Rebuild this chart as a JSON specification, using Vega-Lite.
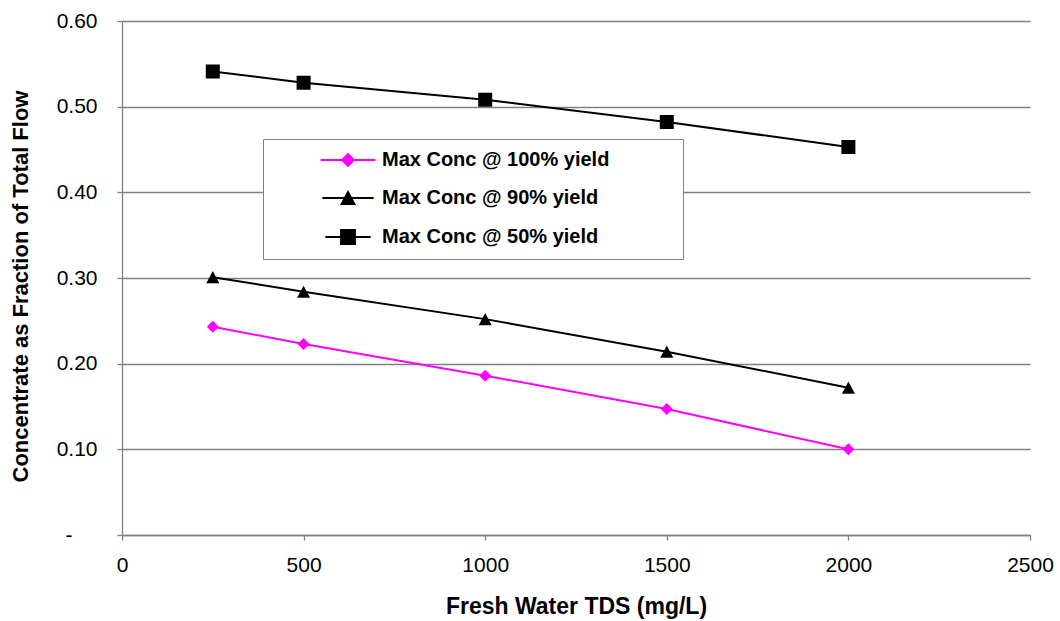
{
  "$schema": "https://vega.github.io/schema/vega-lite/v6.json",
  "width": 908,
  "height": 514,
  "autosize": {"type": "none"},
  "padding": {"left": 122, "top": 21, "right": 30, "bottom": 86},
  "background": "white",
  "config": {
    "view": {"stroke": null},
    "font": "Liberation Sans",
    "axis": {
      "labelFont": "Liberation Sans",
      "labelFontSize": 21,
      "labelColor": "black",
      "titleFont": "Liberation Sans",
      "titleFontSize": 22,
      "titleFontWeight": "bold",
      "titleColor": "black",
      "domainColor": "#808080",
      "tickColor": "#808080",
      "gridColor": "#808080",
      "tickSize": 5,
      "domainWidth": 1.3,
      "tickWidth": 1.3
    }
  },
  "data": {
    "values": [
      {"series": "Max Conc @ 100% yield", "tds": 250, "conc": 0.243},
      {"series": "Max Conc @ 100% yield", "tds": 500, "conc": 0.223},
      {"series": "Max Conc @ 100% yield", "tds": 1000, "conc": 0.186},
      {"series": "Max Conc @ 100% yield", "tds": 1500, "conc": 0.147},
      {"series": "Max Conc @ 100% yield", "tds": 2000, "conc": 0.100},
      {"series": "Max Conc @ 90% yield", "tds": 250, "conc": 0.301},
      {"series": "Max Conc @ 90% yield", "tds": 500, "conc": 0.284},
      {"series": "Max Conc @ 90% yield", "tds": 1000, "conc": 0.252},
      {"series": "Max Conc @ 90% yield", "tds": 1500, "conc": 0.214},
      {"series": "Max Conc @ 90% yield", "tds": 2000, "conc": 0.172},
      {"series": "Max Conc @ 50% yield", "tds": 250, "conc": 0.541},
      {"series": "Max Conc @ 50% yield", "tds": 500, "conc": 0.528},
      {"series": "Max Conc @ 50% yield", "tds": 1000, "conc": 0.508},
      {"series": "Max Conc @ 50% yield", "tds": 1500, "conc": 0.482},
      {"series": "Max Conc @ 50% yield", "tds": 2000, "conc": 0.453}
    ]
  },
  "encoding": {
    "x": {
      "field": "tds",
      "type": "quantitative",
      "scale": {"domain": [0, 2500], "nice": false, "zero": false},
      "axis": {
        "title": "Fresh Water TDS (mg/L)",
        "titleFontSize": 23,
        "values": [0, 500, 1000, 1500, 2000, 2500],
        "format": "d",
        "grid": false,
        "labelPadding": 14,
        "titlePadding": 20,
        "labelFlush": false
      }
    },
    "y": {
      "field": "conc",
      "type": "quantitative",
      "scale": {"domain": [0, 0.6], "nice": false},
      "axis": {
        "title": "Concentrate as Fraction of Total Flow",
        "titleY": 265,
        "values": [0, 0.1, 0.2, 0.3, 0.4, 0.5, 0.6],
        "labelExpr": "datum.value === 0 ? '-' : format(datum.value, '.2f')",
        "grid": true,
        "gridWidth": 1.3,
        "labelPadding": {"condition": {"test": "datum.value === 0", "value": 45}, "value": 20},
        "titlePadding": 24,
        "labelFlush": false
      }
    }
  },
  "layer": [
    {
      "mark": {"type": "line", "strokeWidth": 2},
      "encoding": {
        "color": {
          "field": "series",
          "type": "nominal",
          "scale": {
            "domain": ["Max Conc @ 100% yield", "Max Conc @ 90% yield", "Max Conc @ 50% yield"],
            "range": ["#FF00FF", "#000000", "#000000"]
          }
        }
      }
    },
    {
      "mark": {"type": "point", "filled": true, "opacity": 1},
      "encoding": {
        "shape": {
          "field": "series",
          "type": "nominal",
          "legend": null,
          "scale": {
            "domain": ["Max Conc @ 100% yield", "Max Conc @ 90% yield", "Max Conc @ 50% yield"],
            "range": [
              "M-4.58,0H4.58M0,-1L1,0L0,1L-1,0Z",
              "M-3.93,0H3.93M0,-0.93L1,0.93H-1Z",
              "M-3.24,0H3.24M-1,-1H1V1H-1Z"
            ]
          }
        },
        "size": {
          "field": "series",
          "type": "nominal",
          "legend": null,
          "scale": {
            "domain": ["Max Conc @ 100% yield", "Max Conc @ 90% yield", "Max Conc @ 50% yield"],
            "range": [144, 196, 289]
          }
        },
        "color": {
          "field": "series",
          "type": "nominal",
          "scale": {
            "domain": ["Max Conc @ 100% yield", "Max Conc @ 90% yield", "Max Conc @ 50% yield"],
            "range": ["#FF00FF", "#000000", "#000000"]
          },
          "legend": {
            "title": "\u00a0",
            "titleOrient": "right",
            "titlePadding": 63,
            "titleFontSize": 20,
            "orient": "none",
            "legendX": 141,
            "legendY": 118,
            "fillColor": "white",
            "strokeColor": "#808080",
            "padding": 11,
            "rowPadding": 18,
            "symbolStrokeWidth": 1.8,
            "symbolOffset": 64,
            "labelOffset": 24,
            "labelFont": "Liberation Sans",
            "labelFontSize": 20,
            "labelFontWeight": "bold",
            "labelColor": "black",
            "labelLimit": 600
          }
        }
      }
    }
  ]
}
